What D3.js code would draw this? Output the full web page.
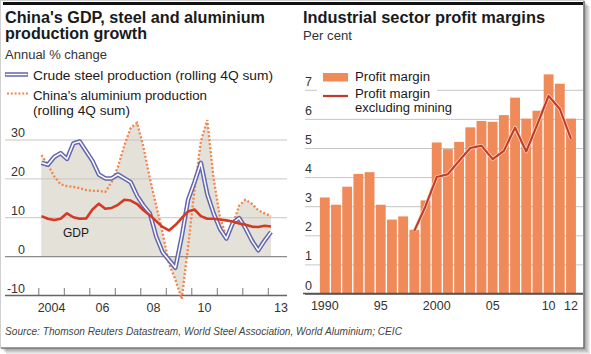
<!DOCTYPE html>
<html>
<head>
<meta charset="utf-8">
<script src="https://cdn.jsdelivr.net/npm/d3@7"></script>
<style>
  body { margin: 0; background: #fff; }
  svg { display: block; }
</style>
</head>
<body>
<script>
// ---- left chart data: quarterly, rolling 4Q, annual % change ----
const quarterLabels = [
  "2004Q1", "2004Q2", "2004Q3", "2004Q4",
  "2005Q1", "2005Q2", "2005Q3", "2005Q4",
  "2006Q1", "2006Q2", "2006Q3", "2006Q4",
  "2007Q1", "2007Q2", "2007Q3", "2007Q4",
  "2008Q1", "2008Q2", "2008Q3", "2008Q4",
  "2009Q1", "2009Q2", "2009Q3", "2009Q4",
  "2010Q1", "2010Q2", "2010Q3", "2010Q4",
  "2011Q1", "2011Q2", "2011Q3", "2011Q4",
  "2012Q1", "2012Q2", "2012Q3", "2012Q4",
  "2013Q1"
];
const steel = [24, 23.5, 25.5, 26.5, 25, 29, 29.5, 27, 24.5, 21, 20, 20, 21, 20, 19, 15.5,
  13, 11, 5, 1, -1, -3, 5, 14.5, 19, 24, 16, 11, 7, 4.5, 8.5, 9.8, 7.2, 4, 1.5, 4, 6.2];
const aluminium = [26, 23.5, 20.5, 18.5, 18, 17.8, 17.5, 17, 16.8, 16.8, 16.5, 19, 23, 28.5, 33, 34.3,
  28, 20, 13, 6, -2, -6, -11, 2.5, 17, 29.5, 35, 20, 10, 5, 8, 13, 14.5, 13.5, 11.8, 11, 10.3];
const gdp = [10.3, 9.6, 9.3, 9.6, 11, 10, 9.6, 9.7, 12, 13.5, 12.2, 12.4, 13.2, 14.5, 14.3, 13.4,
  11.8, 10.5, 9, 7.5, 6.6, 8, 9.8, 11.5, 12, 10.3, 9.6, 9.6, 9.4, 9.2, 8.9, 8.4, 8.1, 7.6, 7.5, 7.8, 7.6];
const yTicksLeft = [-10, 0, 10, 20, 30];
const yearTicksLeft = [2004, 2005, 2006, 2007, 2008, 2009, 2010, 2011, 2012, 2013];
const yearLabelsLeft = [2004, 2006, 2008, 2010, 2013];
const yearTextLeft = ["2004", "06", "08", "10", "13"];

// ---- right chart data: annual, per cent ----
const years = ["1990", "1991", "1992", "1993", "1994", "1995", "1996", "1997", "1998", "1999", "2000",
  "2001", "2002", "2003", "2004", "2005", "2006", "2007", "2008", "2009", "2010", "2011", "2012"];
const profitMargin = [3.3, 3.05, 3.67, 4.11, 4.17, 3.05, 2.54, 2.65, 2.19, 3.2, 5.19,
  4.96, 5.21, 5.71, 5.93, 5.9, 6.13, 6.73, 6.01, 6.28, 7.53, 7.21, 6.01];
const exMiningYears = ["1998", "1999", "2000", "2001", "2002", "2003", "2004", "2005",
  "2006", "2007", "2008", "2009", "2010", "2011", "2012"];
const exMining = [2.15, 3.0, 4.0, 4.1, 4.56, 5.0, 5.08, 4.62, 4.9, 5.7, 4.88, 5.82, 6.79, 6.34, 5.31];
const yTicksRight = [0, 1, 2, 3, 4, 5, 6, 7];
const yearLabelsRight = ["1990", "1995", "2000", "2005", "2010", "2012"];
const yearTextRight = ["1990", "95", "2000", "05", "10", "12"];

// SVG size
const width = 591;
const height = 354;
const font = "'Liberation Sans', Arial, sans-serif";

const svg = d3.select("body")
  .append("svg")
  .attr("width", width)
  .attr("height", height);

// frame with drop shadow
for (let i = 1; i <= 6; i++) {
  svg.append("rect")
    .attr("x", i).attr("y", i)
    .attr("width", 584).attr("height", 348)
    .attr("fill", "#000").attr("opacity", 0.07);
}
svg.append("rect")
  .attr("x", 0.5).attr("y", 0.5)
  .attr("width", 583.5).attr("height", 347.5)
  .attr("fill", "#fff").attr("stroke", "#d0d0d0");
svg.append("path")
  .attr("d", "M584,1V348H1")
  .attr("fill", "none").attr("stroke", "#555").attr("stroke-width", 1.2);

// black top rule
svg.append("rect")
  .attr("x", 3).attr("y", 2)
  .attr("width", 580).attr("height", 3)
  .attr("fill", "#111");

function label(x, y, str, size, opts = {}) {
  const t = svg.append("text")
    .attr("x", x).attr("y", y)
    .style("font-family", font)
    .style("font-size", size + "px")
    .attr("fill", opts.fill || "#1a1a1a")
    .text(str);
  if (opts.bold) t.style("font-weight", "bold");
  if (opts.italic) t.style("font-style", "italic");
  if (opts.len) t.attr("textLength", opts.len).attr("lengthAdjust", "spacingAndGlyphs");
  if (opts.anchor) t.attr("text-anchor", opts.anchor);
  return t;
}

// ================= LEFT CHART =================
const qx = q => +q.slice(0, 4) + (+q.slice(5) - 0.5) / 4;

const xL = d3.scaleLinear().domain([2004, 2013]).range([38.3, 267.8]);
const yL = d3.scaleLinear().domain([-10, 30]).range([295, 139.5]);

// titles
label(5, 23, "China's GDP, steel and aluminium", 16, { bold: true, len: 260 });
label(5, 39, "production growth", 16, { bold: true, len: 142 });
label(5, 59, "Annual % change", 12.5, { len: 102, fill: "#333" });

// legend
svg.append("line").attr("x1", 5).attr("x2", 28).attr("y1", 74.5).attr("y2", 74.5)
  .attr("stroke", "#6366b0").attr("stroke-width", 4.5);
svg.append("line").attr("x1", 5.5).attr("x2", 27.5).attr("y1", 74.5).attr("y2", 74.5)
  .attr("stroke", "#fff").attr("stroke-width", 1.5);
label(33, 80, "Crude steel production (rolling 4Q sum)", 12.5, { len: 240 });
svg.append("line").attr("x1", 7).attr("x2", 28).attr("y1", 93.5).attr("y2", 93.5)
  .attr("stroke", "#f5834a").attr("stroke-width", 2.2).attr("stroke-dasharray", "2,1.8");
label(33, 100, "China's aluminium production", 12.5, { len: 174 });
label(33, 115, "(rolling 4Q sum)", 12.5, { len: 97 });

// shaded band under steel and aluminium
const areaL = d3.area()
  .x((d, i) => xL(qx(quarterLabels[i])))
  .y0(yL(0))
  .y1(d => yL(d));
[steel, aluminium].forEach(s => {
  svg.append("path").datum(s)
    .attr("d", areaL)
    .attr("fill", "#e4e1d8");
});

// y gridlines + labels
const yAxisL = svg.append("g")
  .attr("transform", "translate(5,0)")
  .call(d3.axisRight(yL).tickValues(yTicksLeft).tickSize(282).tickFormat(d => String(d)));
yAxisL.select(".domain").remove();
yAxisL.selectAll(".tick line")
  .attr("stroke", d => d === -10 ? "#666" : d === 0 ? "#8c8c8c" : "#c6c6c6")
  .attr("stroke-width", d => d <= 0 ? 1.3 : 1);
yAxisL.selectAll(".tick text")
  .attr("x", 20).attr("dy", -3)
  .attr("text-anchor", "end")
  .style("font-family", font).style("font-size", "12.5px")
  .attr("fill", "#333");

// x ticks (year starts) pointing up
const xTicksL = svg.append("g")
  .attr("transform", "translate(0,295)")
  .call(d3.axisBottom(xL).tickValues(yearTicksLeft).tickSize(-7).tickFormat(""));
xTicksL.select(".domain").remove();
xTicksL.selectAll(".tick line").attr("stroke", "#777");

// x labels centred in the year
const xLabL = svg.append("g")
  .attr("transform", "translate(0,295)")
  .call(d3.axisBottom(xL)
    .tickValues(yearLabelsLeft.map(y => y + 0.5))
    .tickSize(0).tickPadding(8)
    .tickFormat((d, i) => yearTextLeft[i]));
xLabL.select(".domain").remove();
xLabL.selectAll("text")
  .style("font-family", font).style("font-size", "12.5px").attr("fill", "#333");

// lines
const lineL = d3.line()
  .x((d, i) => xL(qx(quarterLabels[i])))
  .y(d => yL(d));

svg.append("path").datum(aluminium)
  .attr("d", lineL)
  .attr("fill", "none")
  .attr("stroke", "#f5834a")
  .attr("stroke-width", 2.3)
  .attr("stroke-dasharray", "2,2");

svg.append("path").datum(steel)
  .attr("d", lineL)
  .attr("fill", "none")
  .attr("stroke", "#6366b0")
  .attr("stroke-width", 4.5)
  .attr("stroke-linejoin", "round");
svg.append("path").datum(steel)
  .attr("d", lineL)
  .attr("fill", "none")
  .attr("stroke", "#fff")
  .attr("stroke-width", 1.5)
  .attr("stroke-linejoin", "round");

svg.append("path").datum(gdp)
  .attr("d", lineL)
  .attr("fill", "none")
  .attr("stroke", "#d23a24")
  .attr("stroke-width", 2.6)
  .attr("stroke-linejoin", "round");

label(63, 237, "GDP", 12.5, { len: 26 });

// ================= RIGHT CHART =================
const xR = d3.scaleBand()
  .domain(years)
  .range([319.2, 576.6])
  .paddingInner(0.12)
  .paddingOuter(0.06);
const yR = d3.scaleLinear().domain([0, 7]).range([293.5, 89.8]);

label(303, 23, "Industrial sector profit margins", 16, { bold: true, len: 242 });
label(303, 40, "Per cent", 12.5, { len: 49, fill: "#333" });

// gridlines + labels
const yAxisR = svg.append("g")
  .attr("transform", "translate(305,0)")
  .call(d3.axisRight(yR).tickValues(yTicksRight).tickSize(278).tickFormat(d => String(d)));
yAxisR.select(".domain").remove();
yAxisR.selectAll(".tick line")
  .attr("stroke", d => d === 0 ? "#555" : "#c6c6c6")
  .attr("stroke-width", d => d === 0 ? 1.4 : 1);
yAxisR.selectAll(".tick text")
  .attr("x", 0).attr("dy", -4.5)
  .attr("text-anchor", "start")
  .style("font-family", font).style("font-size", "12.5px")
  .attr("fill", "#333");

// legend (white box masks the gridline behind it)
svg.append("rect")
  .attr("x", 317).attr("y", 64)
  .attr("width", 120).attr("height", 52)
  .attr("fill", "#fff");
svg.append("rect")
  .attr("x", 323).attr("y", 73)
  .attr("width", 25).attr("height", 8.5)
  .attr("fill", "#f08a58");
label(355, 81, "Profit margin", 12.5, { len: 75 });
svg.append("line")
  .attr("x1", 323).attr("x2", 348).attr("y1", 96).attr("y2", 96)
  .attr("stroke", "#c23b29").attr("stroke-width", 2.2);
label(355, 98, "Profit margin", 12.5, { len: 75 });
label(355, 112, "excluding mining", 12.5, { len: 97 });

// bars
svg.selectAll(".bar")
  .data(profitMargin)
  .enter()
  .append("rect")
  .attr("class", "bar")
  .attr("x", (d, i) => xR(years[i]))
  .attr("y", d => yR(d))
  .attr("width", xR.bandwidth())
  .attr("height", d => yR(0) - yR(d))
  .attr("fill", "#f08a58");

// profit margin excluding mining
const lineR = d3.line()
  .x((d, i) => xR(exMiningYears[i]) + xR.bandwidth() / 2)
  .y(d => yR(d));
svg.append("path").datum(exMining)
  .attr("d", lineR)
  .attr("fill", "none")
  .attr("stroke", "#fbd3bd")
  .attr("stroke-width", 3.6)
  .attr("stroke-linejoin", "round");
svg.append("path").datum(exMining)
  .attr("d", lineR)
  .attr("fill", "none")
  .attr("stroke", "#c23b29")
  .attr("stroke-width", 2.1)
  .attr("stroke-linejoin", "round");

// axis line
svg.append("line")
  .attr("x1", 303).attr("x2", 583)
  .attr("y1", yR(0)).attr("y2", yR(0))
  .attr("stroke", "#555").attr("stroke-width", 1.4);

// x labels
const xLabR = svg.append("g")
  .attr("transform", `translate(0,${yR(0)})`)
  .call(d3.axisBottom(xR)
    .tickValues(yearLabelsRight)
    .tickSize(0).tickPadding(8)
    .tickFormat((d, i) => yearTextRight[i]));
xLabR.select(".domain").remove();
xLabR.selectAll("text")
  .style("font-family", font).style("font-size", "12.5px").attr("fill", "#333");

// source
label(5, 335, "Source: Thomson Reuters Datastream, World Steel Association, World Aluminium; CEIC", 10,
  { italic: true, len: 397, fill: "#444" });
</script>
</body>
</html>
